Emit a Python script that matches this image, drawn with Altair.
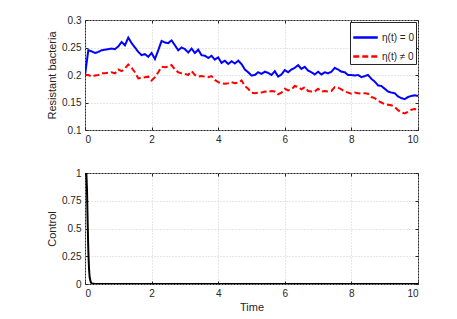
import altair as alt
import pandas as pd

# ---------------- data ----------------
time = [round(i * 0.1, 1) for i in range(101)]

blue = [0.200, 0.245, 0.243, 0.240, 0.242, 0.245, 0.246, 0.247, 0.248, 0.247,
        0.252, 0.260, 0.254, 0.268, 0.258, 0.250, 0.242, 0.236, 0.238, 0.233,
        0.240, 0.229, 0.245, 0.262, 0.259, 0.258, 0.263, 0.254, 0.245, 0.250,
        0.247, 0.241, 0.248, 0.240, 0.246, 0.236, 0.235, 0.231, 0.235, 0.228,
        0.232, 0.222, 0.226, 0.220, 0.225, 0.221, 0.226, 0.220, 0.210, 0.205,
        0.199, 0.200, 0.205, 0.202, 0.206, 0.204, 0.200, 0.207, 0.197, 0.201,
        0.209, 0.205, 0.210, 0.213, 0.218, 0.211, 0.215, 0.208, 0.205, 0.201,
        0.206, 0.201, 0.205, 0.203, 0.206, 0.213, 0.210, 0.206, 0.205, 0.200,
        0.200, 0.199, 0.200, 0.196, 0.198, 0.200, 0.193, 0.188, 0.181, 0.180,
        0.175, 0.170, 0.168, 0.167, 0.161, 0.158, 0.156, 0.160, 0.162, 0.163,
        0.162]

red = [0.200, 0.200, 0.197, 0.199, 0.200, 0.203, 0.203, 0.204, 0.205, 0.203,
       0.210, 0.207, 0.212, 0.219, 0.213, 0.205, 0.194, 0.195, 0.196, 0.197,
       0.190, 0.196, 0.205, 0.215, 0.214, 0.215, 0.218, 0.210, 0.205, 0.203,
       0.202, 0.200, 0.207, 0.200, 0.197, 0.198, 0.197, 0.196, 0.198, 0.191,
       0.187, 0.185, 0.184, 0.185, 0.187, 0.185, 0.186, 0.190, 0.180, 0.175,
       0.168, 0.167, 0.168, 0.168, 0.170, 0.169, 0.171, 0.170, 0.165, 0.168,
       0.175, 0.172, 0.174, 0.180, 0.178, 0.174, 0.178, 0.171, 0.170, 0.170,
       0.175, 0.170, 0.171, 0.170, 0.171, 0.178, 0.177, 0.174, 0.170, 0.168,
       0.166, 0.168, 0.167, 0.166, 0.167, 0.166, 0.160, 0.158, 0.153, 0.150,
       0.147, 0.146, 0.145, 0.142, 0.136, 0.132, 0.130, 0.133, 0.137, 0.138,
       0.137]

series_names = ["η(t) = 0", "η(t) ≠ 0"]
series_colors = ["#0000ff", "#ff0000"]

time_c = [0.0, 0.04, 0.06, 0.08, 0.10, 0.12, 0.14, 0.17, 0.20, 0.30, 10.0]
control = [1.0, 1.0, 0.85, 0.55, 0.30, 0.14, 0.06, 0.02, 0.005, 0.0, 0.0]

x_ticks = [0, 2, 4, 6, 8, 10]
y1_ticks = [0.1, 0.15, 0.2, 0.25, 0.3]
y2_ticks = [0, 0.25, 0.5, 0.75, 1]

W, H1, H2 = 333, 110, 111

df_top = pd.DataFrame({
    "t": time + time,
    "v": blue + red,
    "s": [series_names[0]] * len(time) + [series_names[1]] * len(time),
})
df_bot = pd.DataFrame({"t": time_c, "v": control})

FONT = "Liberation Sans"


def main_axes(title_x, title_y, yt):
    ax = alt.Axis(values=x_ticks, format="d", tickSize=0, domain=False,
                  grid=True, gridDash=[1, 2], gridColor="#cfcfcf",
                  labelPadding=4, title=title_x, titlePadding=3)
    ay = alt.Axis(values=yt, format=".2~f", tickSize=0, domain=False,
                  grid=True, gridDash=[1, 2], gridColor="#cfcfcf",
                  labelPadding=4, title=title_y, titlePadding=4)
    return ax, ay


def tick_axis(orient, offset, vals):
    return alt.Axis(orient=orient, offset=offset, values=vals, labels=False,
                    domain=False, grid=False, title=None, tickSize=3,
                    tickColor="#262626")


def panel(df, H, ydom, yt, ytitle, xtitle, line_layer_fn):
    xs = alt.Scale(domain=[0, 10], nice=False)
    ys = alt.Scale(domain=ydom, nice=False)
    ax, ay = main_axes(xtitle, ytitle, yt)
    main = line_layer_fn(
        alt.X("t:Q", scale=xs, axis=ax),
        alt.Y("v:Q", scale=ys, axis=ay),
    )
    inv1 = alt.Chart(df).mark_point(opacity=0).encode(
        x=alt.X("t:Q", scale=xs, axis=tick_axis("top", -H, x_ticks)),
        y=alt.Y("v:Q", scale=ys, axis=tick_axis("right", -W, yt)),
    )
    inv2 = alt.Chart(df).mark_point(opacity=0).encode(
        x=alt.X("t:Q", scale=xs, axis=tick_axis("bottom", -H, x_ticks)),
        y=alt.Y("v:Q", scale=ys, axis=tick_axis("left", -W, yt)),
    )
    return alt.layer(main, inv1, inv2).resolve_axis(
        x="independent", y="independent"
    ).properties(width=W, height=H)


def top_lines(x, y):
    return alt.Chart(df_top).mark_line(strokeWidth=2, clip=True).encode(
        x=x, y=y,
        color=alt.Color("s:N", scale=alt.Scale(domain=series_names, range=series_colors),
                        legend=alt.Legend(title=None, orient="top-right", offset=2,
                                          strokeColor="#262626", fillColor="white",
                                          padding=2, symbolType="stroke",
                                          symbolSize=600, symbolStrokeWidth=2.5,
                                          labelFontSize=10, labelFont=FONT,
                                          rowPadding=0, symbolOffset=0,
                                          labelOffset=3)),
        strokeDash=alt.StrokeDash("s:N", scale=alt.Scale(domain=series_names,
                                                          range=[[1, 0], [6, 3]]),
                                  legend=None),
    )


def bot_line(x, y):
    return alt.Chart(df_bot).mark_line(strokeWidth=2, color="black", clip=True).encode(
        x=x, y=y,
    )


top = panel(df_top, H1, [0.1, 0.3], y1_ticks, "Resistant bacteria", None, top_lines)
bot = panel(df_bot, H2, [0, 1], y2_ticks, "Control", "Time", bot_line)

chart = alt.vconcat(top, bot, spacing=22).properties(
    padding={"left": 38, "top": 6, "right": 5, "bottom": 5}
).configure_view(stroke="#262626", strokeWidth=1).configure_axis(
    labelFont=FONT, titleFont=FONT, labelFontSize=10, titleFontSize=11,
    titleFontWeight="normal", labelColor="#262626", titleColor="#262626",
).configure_legend(labelColor="#262626")

chart.save("out.html", embed_options={"renderer": "svg", "actions": False})
